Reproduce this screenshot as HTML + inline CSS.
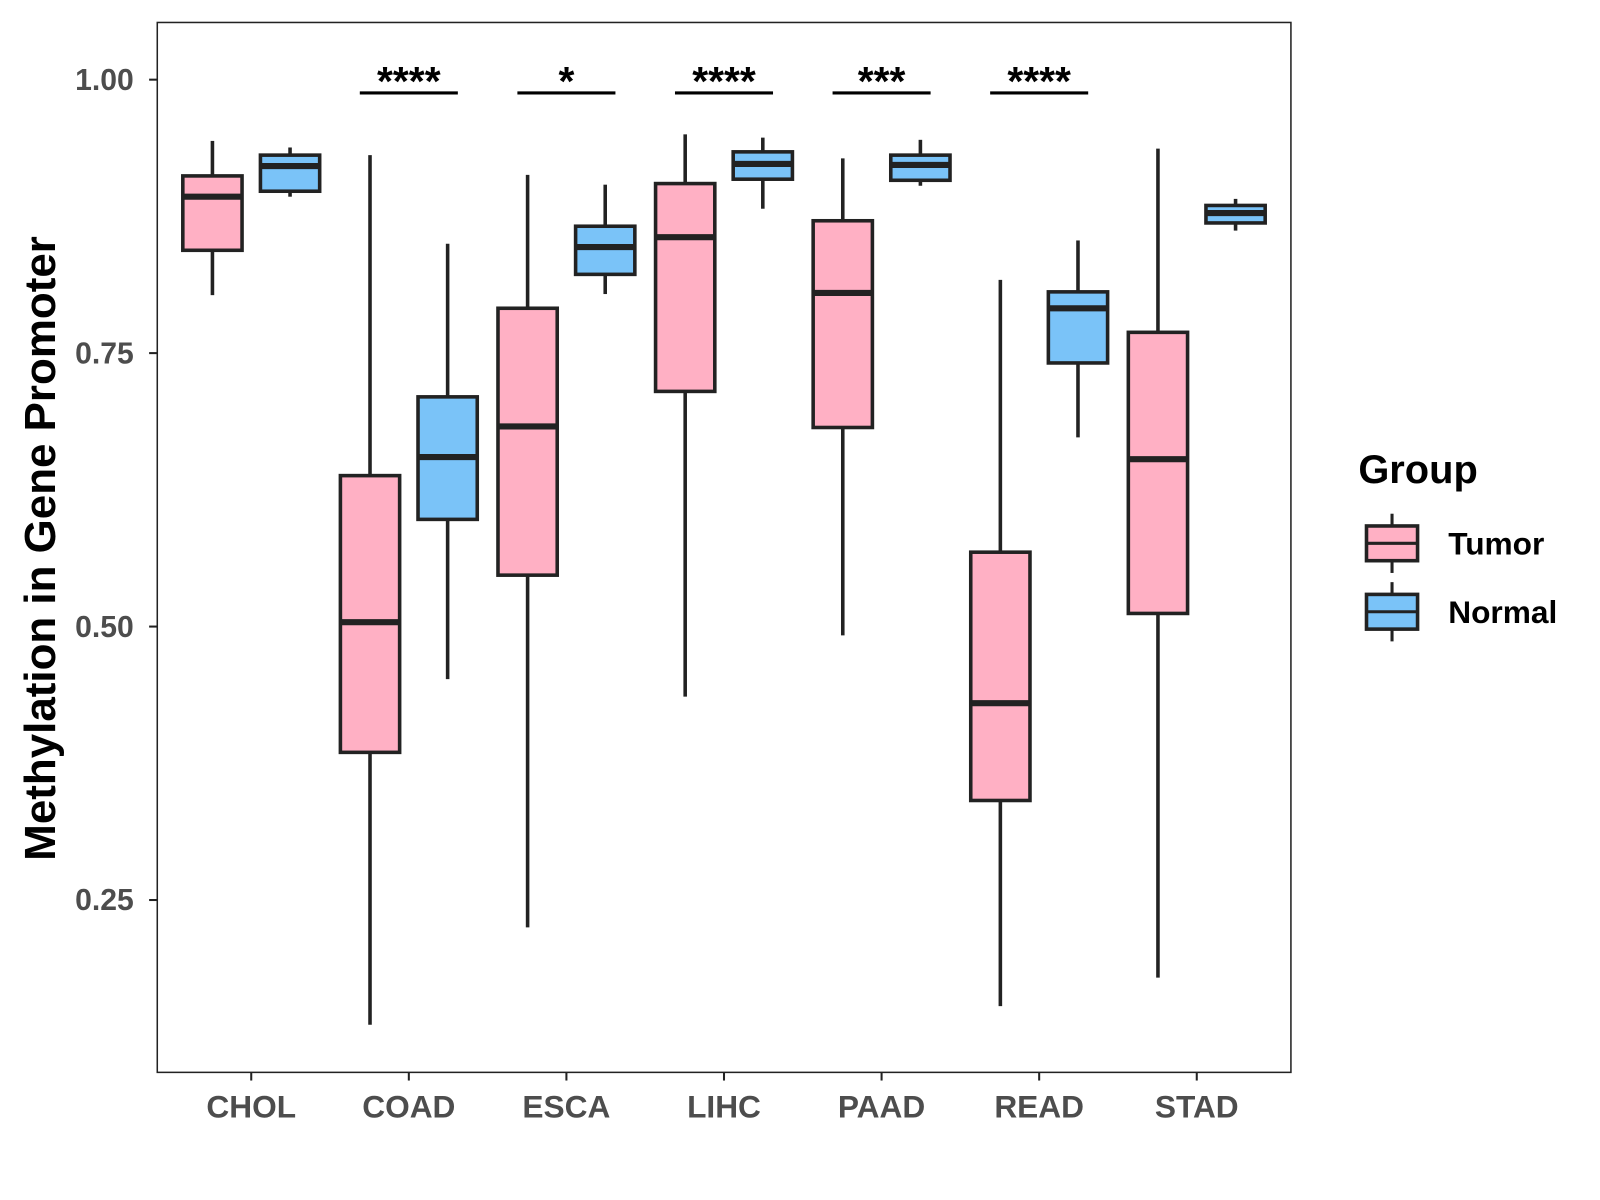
<!DOCTYPE html>
<html><head><meta charset="utf-8"><style>
body{margin:0;background:#fff}
svg{display:block;font-family:"Liberation Sans",Arial,sans-serif}
</style></head><body>
<svg width="1600" height="1200"><g id="chart" transform="scale(1.0213)"></g></svg>
<script>
const categories=["CHOL","COAD","ESCA","LIHC","PAAD","READ","STAD"];
const tumorStats=[[0.803,0.844,0.893,0.912,0.944],[0.136,0.385,0.504,0.638,0.931],[0.225,0.547,0.683,0.791,0.913],[0.436,0.715,0.856,0.905,0.950],[0.492,0.682,0.805,0.871,0.928],[0.153,0.341,0.430,0.568,0.817],[0.179,0.512,0.653,0.769,0.937]];
const normalStats=[[0.893,0.898,0.921,0.931,0.938],[0.452,0.598,0.655,0.710,0.850],[0.804,0.822,0.847,0.866,0.904],[0.882,0.909,0.923,0.934,0.947],[0.903,0.908,0.922,0.931,0.945],[0.673,0.741,0.791,0.806,0.853],[0.862,0.869,0.878,0.885,0.891]];
const sigLabels=["","****","*","****","***","****",""];
const yTicks=[0.25,0.5,0.75,1.0];
const yTickLabels=["0.25","0.50","0.75","1.00"];

const NS="http://www.w3.org/2000/svg";
const svg=document.getElementById('chart');
const L=154,R=1264,T=22,B=1050;
const y=v=>78+(1-v)*1071;
const x=i=>246+i*154.3;
function mk(tag,attrs,parent){const e=document.createElementNS(NS,tag);for(const k in attrs)e.setAttribute(k,attrs[k]);(parent||svg).appendChild(e);return e;}
function txt(s,attrs){const e=mk('text',attrs);e.textContent=s;return e;}

const panel=mk('rect',{x:L,y:T,width:R-L,height:B-T,fill:'none',stroke:'#222','stroke-width':1.5});



yTicks.forEach((v,i)=>{
  const t=mk('line',{x1:L-8,x2:L,y1:y(v),y2:y(v),stroke:'#222','stroke-width':2});
  
  
  const l=txt(yTickLabels[i],{x:L-23,y:y(v)+10,'text-anchor':'end','font-size':29.5,'font-weight':'bold',fill:'#4d4d4d'});
  
  
});

function drawBox(s,cx,fill){
  const g=mk('g',{});
  const w=58,h=cx-w/2;
  mk('line',{x1:cx,x2:cx,y1:y(s[4]),y2:y(s[3]),stroke:'#222','stroke-width':3.5},g);
  mk('line',{x1:cx,x2:cx,y1:y(s[1]),y2:y(s[0]),stroke:'#222','stroke-width':3.5},g);
  mk('rect',{x:h,y:y(s[3]),width:w,height:y(s[1])-y(s[3]),fill:fill,stroke:'#222','stroke-width':3.5},g);
  mk('line',{x1:h,x2:h+w,y1:y(s[2]),y2:y(s[2]),stroke:'#222','stroke-width':6},g);
  return g;
}

categories.forEach((c,i)=>{
  const cx=x(i);
  const t=mk('line',{x1:cx,x2:cx,y1:B,y2:B+8,stroke:'#222','stroke-width':2});
  
  
  const l=txt(c,{x:cx,y:B+44,'text-anchor':'middle','font-size':31,'font-weight':'bold',fill:'#4d4d4d'});
  
  
  const bt=drawBox(tumorStats[i],cx-38,'#FFB0C4');
  
  
  const bn=drawBox(normalStats[i],cx+38,'#7AC3F8');
  
  
  if(sigLabels[i]){
    const g=mk('g',{});
    
    
    mk('line',{x1:cx-48,x2:cx+48,y1:91,y2:91,stroke:'#000','stroke-width':3},g);
    const s=document.createElementNS(NS,'text');
    s.setAttribute('x',cx);s.setAttribute('y',93);s.setAttribute('text-anchor','middle');
    s.setAttribute('font-size',40);s.setAttribute('font-weight','bold');
    s.textContent=sigLabels[i];g.appendChild(s);
  }
});

const yt=txt('Methylation in Gene Promoter',{x:0,y:0,transform:'translate(54,537) rotate(-90)','text-anchor':'middle','font-size':43,'font-weight':'bold',fill:'#000'});



const lt=txt('Group',{x:1330,y:473,'font-size':39,'font-weight':'bold'});


[["Tumor",'#FFB0C4',532],["Normal",'#7AC3F8',599]].forEach(([n,f,cy])=>{
  const g=mk('g',{});
  
  
  mk('line',{x1:1363,x2:1363,y1:cy-29,y2:cy+29,stroke:'#222','stroke-width':3},g);
  mk('rect',{x:1338,y:cy-17,width:50,height:34,fill:f,stroke:'#222','stroke-width':3.5},g);
  mk('line',{x1:1338,x2:1388,y1:cy,y2:cy,stroke:'#222','stroke-width':3},g);
  const t=document.createElementNS(NS,'text');
  t.setAttribute('x',1418);t.setAttribute('y',cy+11);t.setAttribute('font-size',31);t.setAttribute('font-weight','bold');
  t.textContent=n;g.appendChild(t);
});
</script>
</body></html>
